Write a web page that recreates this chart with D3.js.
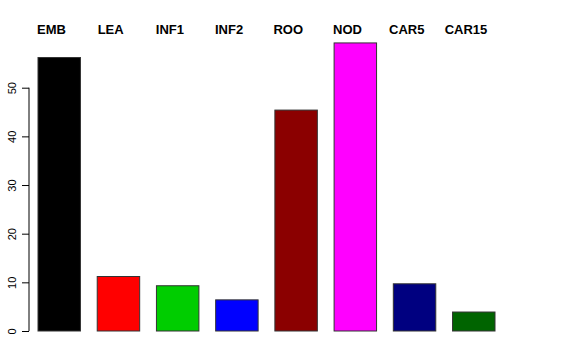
<!DOCTYPE html>
<html lang="en">
<head>
  <meta charset="UTF-8">
  <script src="https://cdn.jsdelivr.net/npm/d3@7"></script>
  <style>
    body { margin: 0; background: #fff; }
  </style>
</head>
<body>
  <svg class="svg" width="576" height="360"></svg>
  <script>
    const categories = ["EMB", "LEA", "INF1", "INF2", "ROO", "NOD", "CAR5", "CAR15"]
    const values = [56.2, 11.2, 9.3, 6.4, 45.4, 59.2, 9.7, 3.9]
    const colors = ["#000000", "#FF0000", "#00CD00", "#0000FF", "#8B0000", "#FF00FF", "#000080", "#006400"]
    const yTicks = [0, 10, 20, 30, 40, 50]

    let svg = d3.select(".svg")

    let x = d3.scaleBand()
      .domain(categories)
      .range([38, 495])
      .paddingInner(0.283)
      .paddingOuter(0)

    let y = d3.scaleLinear()
      .domain([0, 50])
      .range([331, 87.7])

    // y axis
    let yAxis = g => g
      .attr("transform", "translate(29,0)")
      .call(d3.axisLeft(y).tickValues(yTicks).tickSize(7).tickSizeOuter(0))
      .call(g => g.select(".domain").attr("stroke", "#000").attr("d", `M0,${y(50)}V${y(0)}`))
      .call(g => g.selectAll(".tick line").attr("stroke", "#000"))
      .call(g => g.selectAll(".tick text")
        .attr("font-family", "Liberation Sans, Arial, sans-serif")
        .attr("font-size", 11)
        .attr("fill", "#000")
        .attr("text-anchor", "middle")
        .attr("x", 0)
        .attr("y", 0)
        .attr("dy", 0)
        .attr("transform", "translate(-13,0) rotate(-90)"))

    svg.append("g").call(yAxis)

    // bars
    svg.append("g")
      .selectAll("rect")
      .data(values)
      .join("rect")
      .attr("x", (d, i) => x(categories[i]))
      .attr("y", d => y(d))
      .attr("width", x.bandwidth())
      .attr("height", d => y(0) - y(d))
      .attr("fill", (d, i) => colors[i])
      .attr("stroke", "#333")
      .attr("stroke-width", 1)

    // category labels, centred a little left of each bar
    svg.append("g")
      .attr("font-family", "Liberation Sans, Arial, sans-serif")
      .attr("font-size", 13)
      .attr("font-weight", "bold")
      .attr("text-anchor", "middle")
      .selectAll("text")
      .data(categories)
      .join("text")
      .attr("x", d => x(d) + x.bandwidth() / 2 - 7.8)
      .attr("y", 33.5)
      .text(d => d)
  </script>
</body>
</html>
